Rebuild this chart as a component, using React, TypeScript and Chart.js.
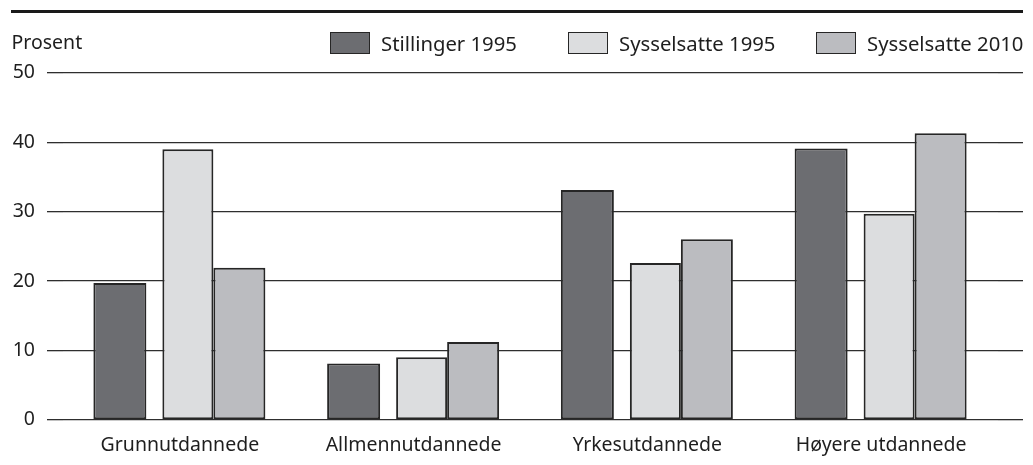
import React, { useEffect, useRef } from "react";
import { Chart, registerables } from "chart.js";

Chart.register(...registerables);

// ---- data ----
const categories = ["Grunnutdannede", "Allmennutdannede", "Yrkesutdannede", "Høyere utdannede"];
const seriesNames = ["Stillinger 1995", "Sysselsatte 1995", "Sysselsatte 2010"];
const stillinger1995 = [19.7, 8.1, 33.1, 39.1];
const sysselsatte1995 = [39.0, 9.0, 22.6, 29.7];
const sysselsatte2010 = [21.9, 11.2, 26.0, 41.3];
const yTicks = [0, 10, 20, 30, 40, 50];
const yAxisTitle = "Prosent";

// ---- style ----
const FONT_FAMILY = '"Noto Sans", sans-serif';
const FONT_SIZE = 19.5;
const TEXT_COLOR = "#1e1e1e";
const GRID_COLOR = "#2e2e2e";
const BORDER_COLOR = "#262626";
const seriesColors = ["#6c6d71", "#dcdddf", "#bbbcc0"];
const legendLefts = [322, 560, 808];

export default function App() {
  const canvasRef = useRef<HTMLCanvasElement | null>(null);

  useEffect(() => {
    if (!canvasRef.current) return;
    const font = { family: FONT_FAMILY, size: FONT_SIZE };
    const chart = new Chart(canvasRef.current, {
      type: "bar",
      data: {
        labels: categories,
        datasets: [
          {
            label: seriesNames[0],
            data: stillinger1995,
            backgroundColor: seriesColors[0],
            borderColor: BORDER_COLOR,
            borderWidth: 2,
            borderSkipped: false,
            categoryPercentage: 0.6845,
            barPercentage: 1.325,
          },
          {
            label: "spacer",
            data: categories.map(() => null),
            backgroundColor: "rgba(0,0,0,0)",
            borderWidth: 0,
          },
          {
            label: seriesNames[1],
            data: sysselsatte1995,
            backgroundColor: seriesColors[1],
            borderColor: BORDER_COLOR,
            borderWidth: 2,
            borderSkipped: false,
            categoryPercentage: 0.2738,
            barPercentage: 3.1875,
          },
          {
            label: seriesNames[2],
            data: sysselsatte2010,
            backgroundColor: seriesColors[2],
            borderColor: BORDER_COLOR,
            borderWidth: 2,
            borderSkipped: false,
            categoryPercentage: 0.6788,
            barPercentage: 1.3109,
          },
        ],
      },
      options: {
        animation: false,
        responsive: true,
        maintainAspectRatio: false,
        layout: { padding: { top: 64.8, right: 2, bottom: 0, left: 0 } },
        plugins: {
          legend: { display: false },
          tooltip: { enabled: false },
          title: { display: false },
        },
        scales: {
          x: {
            type: "category",
            offset: true,
            grid: { display: false },
            border: { display: false },
            ticks: { color: TEXT_COLOR, font, padding: 6, maxRotation: 0, autoSkip: false },
            afterFit: (s: any) => {
              s.height = 37.2;
            },
          },
          y: {
            position: "left",
            min: 0,
            max: 50,
            afterBuildTicks: (s: any) => {
              s.ticks = yTicks.map((v) => ({ value: v }));
            },
            ticks: { color: TEXT_COLOR, font, padding: 12 },
            grid: { color: GRID_COLOR, lineWidth: 1.3, tickLength: 16, drawTicks: true },
            border: { display: false },
            afterFit: (s: any) => {
              s.width = 55;
            },
          },
          y2: {
            position: "right",
            min: 0,
            max: 50,
            afterBuildTicks: (s: any) => {
              s.ticks = yTicks.map((v) => ({ value: v }));
            },
            ticks: { display: false },
            grid: { color: GRID_COLOR, lineWidth: 1.3, tickLength: 25, drawOnChartArea: false, drawTicks: true },
            border: { display: false },
          },
        },
      },
    });
    return () => chart.destroy();
  }, []);

  const textStyle: React.CSSProperties = {
    fontFamily: FONT_FAMILY,
    fontSize: FONT_SIZE,
    color: TEXT_COLOR,
    lineHeight: 1,
    whiteSpace: "nowrap",
  };

  return (
    <div style={{ position: "relative", width: 1017, height: 449 }}>
      <canvas ref={canvasRef} />
      <div
        style={{
          position: "absolute",
          left: 3,
          top: 2,
          width: 1012,
          height: 2.6,
          background: "#1a1a1a",
        }}
      />
      <div style={{ ...textStyle, position: "absolute", left: 3.5, top: 23.5 }}>{yAxisTitle}</div>
      {seriesNames.map((name, i) => (
        <div
          key={name}
          style={{
            position: "absolute",
            left: legendLefts[i],
            top: 23.7,
            height: 22.5,
            display: "flex",
            alignItems: "center",
            gap: 11,
          }}
        >
          <div
            style={{
              width: 40,
              height: 22.5,
              boxSizing: "border-box",
              border: `1.5px solid ${BORDER_COLOR}`,
              background: seriesColors[i],
            }}
          />
          <span style={{ ...textStyle, fontSize: 20.3 }}>{name}</span>
        </div>
      ))}
    </div>
  );
}
